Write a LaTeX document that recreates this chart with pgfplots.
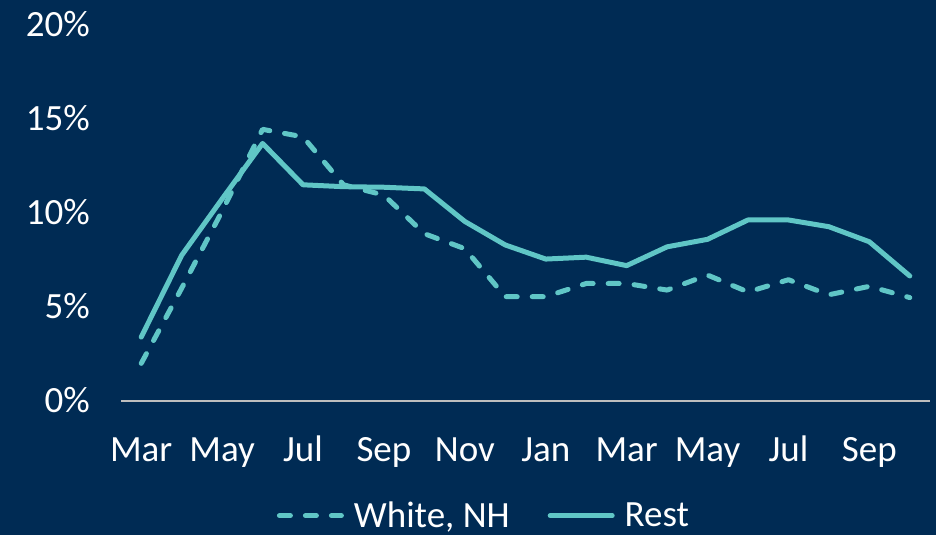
\documentclass[border=0pt]{standalone}
\usepackage{pgfplots}
\pgfplotsset{compat=1.18}
\usepackage{fontspec}
\setmainfont{Carlito}

\definecolor{bgnavy}{RGB}{0,43,84}
\definecolor{teal}{RGB}{96,198,198}
\definecolor{axisgray}{RGB}{190,190,190}

\begin{document}
\begin{tikzpicture}
  % background, 1px = 0.5pt
  \fill[bgnavy] (-60.5pt,-67pt) rectangle (407.5pt,200.5pt);
  \begin{axis}[
    at={(0,0)}, anchor=south west,
    scale only axis, width=404.5pt, height=188pt,
    xmin=-0.5, xmax=19.5, ymin=0, ymax=20,
    axis x line*=bottom, axis y line*=left,
    x axis line style={draw=axisgray, line width=0.8pt, -},
    y axis line style={draw=none},
    major tick length=0pt,
    xtick={0,2,...,18},
    xticklabels={Mar,May,Jul,Sep,Nov,Jan,Mar,May,Jul,Sep},
    ytick={0,5,10,15,20},
    yticklabels={0\%,5\%,10\%,15\%,20\%},
    typeset ticklabels with strut,
    tick label style={text=white, font=\fontsize{18.5}{22}\selectfont},
    xticklabel style={yshift=-11.5pt},
    yticklabel style={xshift=-12pt, yshift=-1.5pt},
    legend style={at={(0.4536,-0.305)}, anchor=center, draw=none, fill=none,
      text=white, font=\fontsize{18.5}{22}\selectfont, legend columns=2,
      /tikz/every even column/.append style={column sep=14pt},
      nodes={inner xsep=5pt}},
    legend image code/.code={\draw[#1] (0pt,0pt) -- (31pt,0pt);},
    clip=false,
  ]
  \addplot[teal, line width=2.5pt, line cap=round, line join=round,
    dash pattern=on 5.5pt off 7.5pt]
    coordinates {(0,2.0)(1,6.0)(2,10.1)(3,14.45)(4,14.05)(5,11.5)(6,10.95)(7,8.9)
      (8,8.1)(9,5.55)(10,5.55)(11,6.25)(12,6.25)(13,5.9)(14,6.7)(15,5.8)(16,6.45)
      (17,5.65)(18,6.1)(19,5.5)};
  \addlegendentry{White, NH}
  \addplot[teal, line width=2.5pt, line cap=round, line join=round]
    coordinates {(0,3.4)(1,7.75)(2,10.75)(3,13.7)(4,11.5)(5,11.4)(6,11.37)(7,11.28)
      (8,9.55)(9,8.3)(10,7.55)(11,7.65)(12,7.2)(13,8.2)(14,8.6)(15,9.63)(16,9.63)
      (17,9.27)(18,8.47)(19,6.65)};
  \addlegendentry{Rest}
  \end{axis}
  \pgfresetboundingbox
  \path (-60.5pt,-67pt) rectangle (407.5pt,200.5pt);
\end{tikzpicture}
\end{document}
